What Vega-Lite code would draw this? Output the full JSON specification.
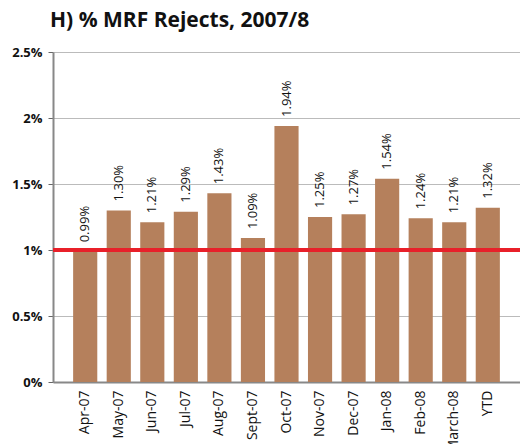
{
  "$schema": "https://vega.github.io/schema/vega-lite/v6.json",
  "width": 467,
  "height": 330,
  "autosize": "none",
  "padding": {"left": 53, "top": 52, "right": 0, "bottom": 62},
  "background": "white",
  "title": {
    "text": "H) % MRF Rejects, 2007/8",
    "anchor": "start",
    "frame": "group",
    "font": "Open Sans",
    "fontSize": 21,
    "fontWeight": "bold",
    "color": "#111111",
    "offset": 15,
    "dx": -3
  },
  "config": {"view": {"stroke": null}},
  "data": {
    "values": [
      {"month": "Apr-07", "value": 0.0099},
      {"month": "May-07", "value": 0.0130},
      {"month": "Jun-07", "value": 0.0121},
      {"month": "Jul-07", "value": 0.0129},
      {"month": "Aug-07", "value": 0.0143},
      {"month": "Sept-07", "value": 0.0109},
      {"month": "Oct-07", "value": 0.0194},
      {"month": "Nov-07", "value": 0.0125},
      {"month": "Dec-07", "value": 0.0127},
      {"month": "Jan-08", "value": 0.0154},
      {"month": "Feb-08", "value": 0.0124},
      {"month": "March-08", "value": 0.0121},
      {"month": "YTD", "value": 0.0132}
    ]
  },
  "encoding": {
    "x": {
      "field": "month",
      "type": "nominal",
      "sort": null,
      "scale": {"paddingInner": 0.28, "paddingOuter": 0.6},
      "axis": {
        "title": null,
        "labelAngle": -90,
        "labelAlign": "right",
        "labelBaseline": "middle",
        "labelFont": "Open Sans",
        "labelFontSize": 14,
        "labelColor": "#111111",
        "labelPadding": 8,
        "labelOverlap": false,
        "ticks": false,
        "domainColor": "#888888",
        "domainWidth": 2
      }
    }
  },
  "layer": [
    {
      "mark": {"type": "bar", "color": "#b5805c"},
      "encoding": {
        "y": {
          "field": "value",
          "type": "quantitative",
          "scale": {"domain": [0, 0.025], "nice": false},
          "axis": {
            "title": null,
            "values": [0, 0.005, 0.01, 0.015, 0.02, 0.025],
            "format": "~%",
            "labelFont": "Open Sans",
            "labelFontSize": 13,
            "labelFontWeight": "bold",
            "labelColor": "#111111",
            "labelPadding": 6,
            "tickSize": 5,
            "tickColor": "#666666",
            "domainColor": "#888888",
            "domainWidth": 2,
            "gridColor": "#bbbbbb",
            "gridWidth": 1
          }
        }
      }
    },
    {
      "mark": {"type": "rule", "color": "#e8202a", "strokeWidth": 3.5},
      "encoding": {"y": {"datum": 0.01}, "x": {"value": 0}, "x2": {"value": 467}}
    },
    {
      "mark": {
        "type": "text",
        "angle": -90,
        "align": "left",
        "baseline": "middle",
        "dx": 9,
        "font": "Open Sans",
        "fontSize": 13,
        "color": "#111111"
      },
      "encoding": {
        "y": {"field": "value", "type": "quantitative"},
        "text": {"field": "value", "type": "quantitative", "format": ".2%"}
      }
    }
  ]
}
